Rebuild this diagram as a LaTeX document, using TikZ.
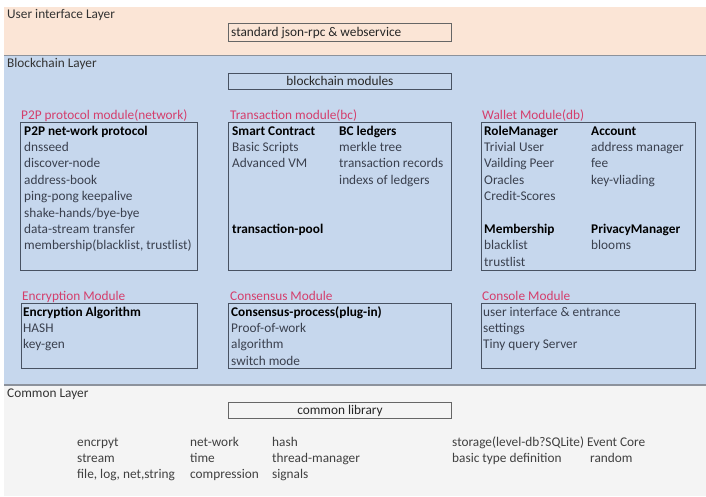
\documentclass[tikz,border=0pt]{standalone}
\usepackage{fontspec}
\setmainfont{Carlito}
\usetikzlibrary{positioning}
\definecolor{uiback}{RGB}{251,229,214}
\definecolor{bcback}{RGB}{198,215,237}
\definecolor{cmback}{RGB}{244,244,244}
\definecolor{sepgray}{RGB}{140,146,156}
\definecolor{boxline}{RGB}{72,82,98}
\definecolor{titlered}{RGB}{212,62,108}
\definecolor{txtgray}{RGB}{58,64,78}
\newcommand{\modhead}[1]{\textcolor{black}{\bfseries #1}}
\newcommand{\modlines}[1]{\begin{tabular}[t]{@{}l@{}}#1\end{tabular}}

\begin{document}
\begin{tikzpicture}[x=1pt,y=-1pt]

\tikzset{modbox/.style={draw=boxline, line width=0.9pt, anchor=north west, inner sep=0pt},
         topbox/.style={draw=black!60, line width=0.9pt, anchor=north west, inner sep=0pt,
                        minimum width=223pt},
         modtitle/.style={anchor=base west, inner sep=0pt, text=titlered, font=\fontsize{13.3}{16.4}\selectfont},
         modtext/.style={anchor=base west, inner sep=0pt, text=txtgray, font=\fontsize{13.3}{16.4}\selectfont},
         layername/.style={anchor=base west, inner sep=0pt, text=black!80, font=\fontsize{13.3}{16.4}\selectfont},
         sepline/.style={draw=sepgray, line width=1.6pt}}

\useasboundingbox (0,0) rectangle (706,496);
\fill[white] (0,0) rectangle (706,496);

\fill[uiback] (4,7) rectangle (706,55);
\fill[bcback] (4,56) rectangle (706,385);
\fill[cmback] (4,386) rectangle (706,496);
\draw[sepline] (4,55.5) -- (706,55.5);
\draw[sepline] (4,385) -- (706,385);

\node[layername] (uilayer) at (7,18.5) {User interface Layer};
\node[layername] (bclayer) at (7,67.5) {Blockchain Layer};
\node[layername] (cmlayer) at (7,397) {Common Layer};

\node[topbox, minimum height=18pt] (rpcbox) at (228,23) {};
\node[modtext, text=black!85] (rpc) at ([xshift=3pt,yshift=-13pt]rpcbox.north west) {standard json-rpc \& webservice};
\node[topbox, draw=boxline, minimum height=16pt] (bcmodbox) at (228,73) {};
\node[modtext, text=black!85, anchor=base] (bcmod) at ([yshift=-12pt]bcmodbox.north) {blockchain modules};

\node[modbox, minimum width=177pt, minimum height=148pt] (p2pbox) at (20,122) {};
\node[modtitle] (p2ptitle) at ([xshift=1pt,yshift=3pt]p2pbox.north west) {P2P protocol module(network)};
\node[modtext] (p2plist) at ([xshift=4pt,yshift=-13pt]p2pbox.north west)
  {\modlines{\modhead{P2P net-work protocol}\\dnsseed\\discover-node\\address-book\\ping-pong keepalive\\shake-hands/bye-bye\\data-stream transfer\\membership(blacklist, trustlist)}};

\node[modbox, minimum width=223pt, minimum height=148pt] (txbox) at (228,122) {};
\node[modtitle] (txtitle) at ([xshift=2pt,yshift=3pt]txbox.north west) {Transaction module(bc)};
\node[modtext] (txlist) at ([xshift=4pt,yshift=-13pt]txbox.north west)
  {\modlines{\modhead{Smart Contract}\\Basic Scripts\\Advanced VM\\ \\ \\ \\\modhead{transaction-pool}}};
\node[modtext] (txledger) at ([xshift=111pt,yshift=-13pt]txbox.north west)
  {\modlines{\modhead{BC ledgers}\\merkle tree\\transaction records\\indexs of ledgers}};

\node[modbox, minimum width=214pt, minimum height=148pt] (walletbox) at (481,122) {};
\node[modtitle] (wallettitle) at ([xshift=1pt,yshift=3pt]walletbox.north west) {Wallet Module(db)};
\node[modtext] (walletrole) at ([xshift=3pt,yshift=-13pt]walletbox.north west)
  {\modlines{\modhead{RoleManager}\\Trivial User\\Vailding Peer\\Oracles\\Credit-Scores\\ \\\modhead{Membership}\\blacklist\\trustlist}};
\node[modtext] (walletacct) at ([xshift=110pt,yshift=-13pt]walletbox.north west)
  {\modlines{\modhead{Account}\\address manager\\fee\\key-vliading\\ \\ \\\modhead{PrivacyManager}\\blooms}};

\node[modbox, minimum width=176pt, minimum height=65pt] (encbox) at (21,303) {};
\node[modtitle] (enctitle) at ([xshift=1pt,yshift=3pt]encbox.north west) {Encryption Module};
\node[modtext] (enclist) at ([xshift=2pt,yshift=-13pt]encbox.north west)
  {\modlines{\modhead{Encryption Algorithm}\\HASH\\key-gen}};

\node[modbox, minimum width=223pt, minimum height=65pt] (consbox) at (228,303) {};
\node[modtitle] (constitle) at ([xshift=2pt,yshift=3pt]consbox.north west) {Consensus Module};
\node[modtext] (conslist) at ([xshift=3pt,yshift=-13pt]consbox.north west)
  {\modlines{\modhead{Consensus-process(plug-in)}\\Proof-of-work\\algorithm\\switch mode}};

\node[modbox, minimum width=214pt, minimum height=65pt] (consolebox) at (481,303) {};
\node[modtitle] (consoletitle) at ([xshift=1pt,yshift=3pt]consolebox.north west) {Console Module};
\node[modtext] (consolelist) at ([xshift=2pt,yshift=-13pt]consolebox.north west)
  {\modlines{user interface \& entrance\\settings\\Tiny query Server}};

\node[topbox, minimum height=16pt] (cmlibbox) at (228,402) {};
\node[modtext, text=black!85, anchor=base] (cmlib) at ([yshift=-12pt]cmlibbox.north) {common library};

\node[modtext, text=black!75] (cmcola) at (77,446) {\modlines{encrpyt\\stream\\file, log, net,string}};
\node[modtext, text=black!75] (cmcolb) at (190,446) {\modlines{net-work\\time\\compression}};
\node[modtext, text=black!75] (cmcolc) at (272,446) {\modlines{hash\\thread-manager\\signals}};
\node[modtext, text=black!75] (cmcold) at (452,446) {\modlines{storage(level-db?SQLite) Event Core\\basic type definition}};
\node[modtext, text=black!75] (cmrandom) at (590,462.4) {random};

\end{tikzpicture}
\end{document}
